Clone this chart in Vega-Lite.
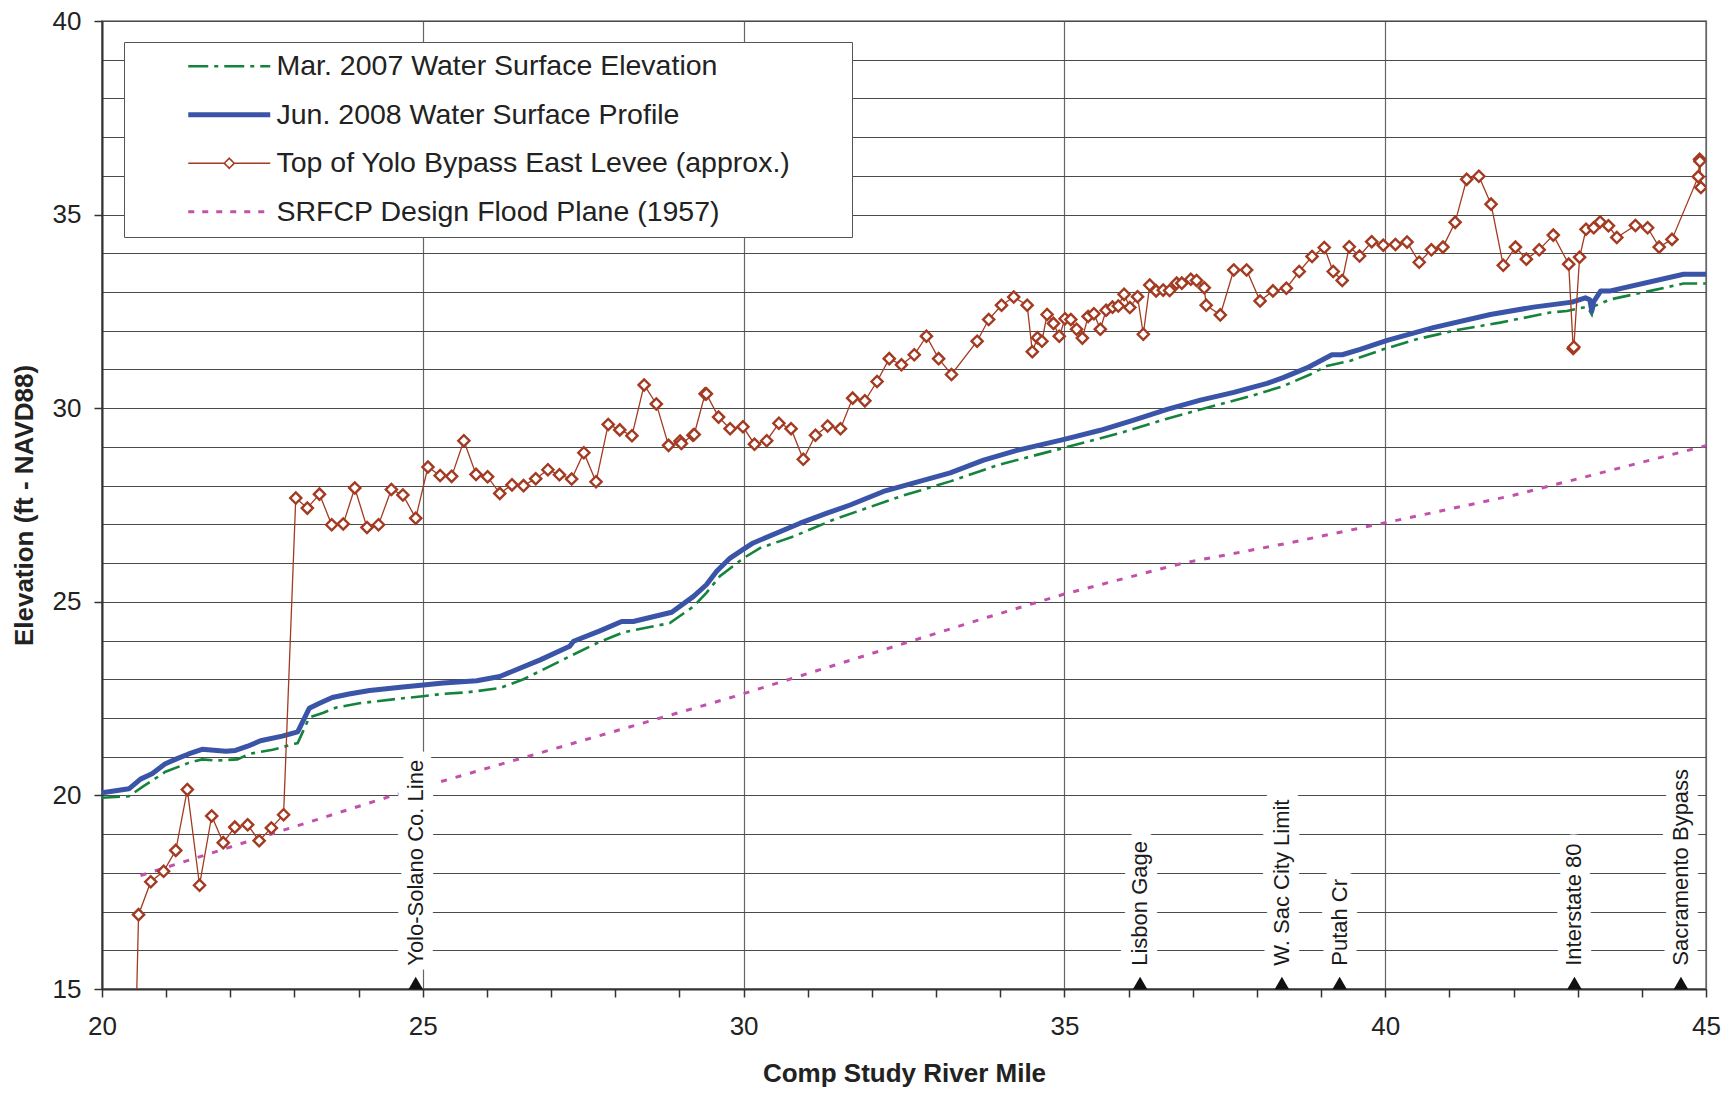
{
  "$schema": "https://vega.github.io/schema/vega-lite/v6.json",
  "width": 1604,
  "height": 968,
  "autosize": "none",
  "padding": {"left": 102, "top": 21, "right": 30, "bottom": 104},
  "background": "white",
  "config": {
    "font": "Liberation Sans",
    "view": {"stroke": "#999", "strokeWidth": 2},
    "axis": {
      "labelFont": "Liberation Sans", "titleFont": "Liberation Sans",
      "labelFontSize": 26, "titleFontSize": 26, "titleFontWeight": "bold",
      "labelColor": "#222", "titleColor": "#222",
      "domainColor": "#333", "domainWidth": 2,
      "tickColor": "#333", "tickWidth": 1.5, "tickSize": 8,
      "gridColor": "#4a4a4a", "gridWidth": 1.2,
      "labelFlush": false, "labelOverlap": false
    }
  },
  "datasets": {
    "profiles": [
      {"series": "Mar. 2007 Water Surface Elevation", "mile": 20.0, "elev": 19.94},
      {"series": "Mar. 2007 Water Surface Elevation", "mile": 20.42, "elev": 19.98},
      {"series": "Mar. 2007 Water Surface Elevation", "mile": 20.63, "elev": 20.22},
      {"series": "Mar. 2007 Water Surface Elevation", "mile": 20.78, "elev": 20.38},
      {"series": "Mar. 2007 Water Surface Elevation", "mile": 20.99, "elev": 20.61},
      {"series": "Mar. 2007 Water Surface Elevation", "mile": 21.35, "elev": 20.84},
      {"series": "Mar. 2007 Water Surface Elevation", "mile": 21.56, "elev": 20.93},
      {"series": "Mar. 2007 Water Surface Elevation", "mile": 21.77, "elev": 20.9},
      {"series": "Mar. 2007 Water Surface Elevation", "mile": 22.11, "elev": 20.93},
      {"series": "Mar. 2007 Water Surface Elevation", "mile": 22.29, "elev": 21.07},
      {"series": "Mar. 2007 Water Surface Elevation", "mile": 22.66, "elev": 21.18},
      {"series": "Mar. 2007 Water Surface Elevation", "mile": 23.05, "elev": 21.35},
      {"series": "Mar. 2007 Water Surface Elevation", "mile": 23.23, "elev": 22.01},
      {"series": "Mar. 2007 Water Surface Elevation", "mile": 23.44, "elev": 22.13},
      {"series": "Mar. 2007 Water Surface Elevation", "mile": 23.65, "elev": 22.27},
      {"series": "Mar. 2007 Water Surface Elevation", "mile": 24.01, "elev": 22.38},
      {"series": "Mar. 2007 Water Surface Elevation", "mile": 24.64, "elev": 22.5},
      {"series": "Mar. 2007 Water Surface Elevation", "mile": 25.0, "elev": 22.56},
      {"series": "Mar. 2007 Water Surface Elevation", "mile": 25.31, "elev": 22.62},
      {"series": "Mar. 2007 Water Surface Elevation", "mile": 25.68, "elev": 22.66},
      {"series": "Mar. 2007 Water Surface Elevation", "mile": 26.2, "elev": 22.77},
      {"series": "Mar. 2007 Water Surface Elevation", "mile": 26.57, "elev": 23.0},
      {"series": "Mar. 2007 Water Surface Elevation", "mile": 27.29, "elev": 23.59},
      {"series": "Mar. 2007 Water Surface Elevation", "mile": 27.71, "elev": 23.93},
      {"series": "Mar. 2007 Water Surface Elevation", "mile": 28.12, "elev": 24.21},
      {"series": "Mar. 2007 Water Surface Elevation", "mile": 28.85, "elev": 24.45},
      {"series": "Mar. 2007 Water Surface Elevation", "mile": 29.22, "elev": 24.88},
      {"series": "Mar. 2007 Water Surface Elevation", "mile": 29.42, "elev": 25.23},
      {"series": "Mar. 2007 Water Surface Elevation", "mile": 29.63, "elev": 25.66},
      {"series": "Mar. 2007 Water Surface Elevation", "mile": 30.0, "elev": 26.13},
      {"series": "Mar. 2007 Water Surface Elevation", "mile": 30.26, "elev": 26.39},
      {"series": "Mar. 2007 Water Surface Elevation", "mile": 30.78, "elev": 26.69},
      {"series": "Mar. 2007 Water Surface Elevation", "mile": 31.4, "elev": 27.12},
      {"series": "Mar. 2007 Water Surface Elevation", "mile": 31.92, "elev": 27.42},
      {"series": "Mar. 2007 Water Surface Elevation", "mile": 32.44, "elev": 27.72},
      {"series": "Mar. 2007 Water Surface Elevation", "mile": 33.22, "elev": 28.11},
      {"series": "Mar. 2007 Water Surface Elevation", "mile": 34.0, "elev": 28.55},
      {"series": "Mar. 2007 Water Surface Elevation", "mile": 34.98, "elev": 28.97},
      {"series": "Mar. 2007 Water Surface Elevation", "mile": 35.87, "elev": 29.36},
      {"series": "Mar. 2007 Water Surface Elevation", "mile": 36.6, "elev": 29.73},
      {"series": "Mar. 2007 Water Surface Elevation", "mile": 37.22, "elev": 30.01},
      {"series": "Mar. 2007 Water Surface Elevation", "mile": 37.9, "elev": 30.31},
      {"series": "Mar. 2007 Water Surface Elevation", "mile": 38.41, "elev": 30.57},
      {"series": "Mar. 2007 Water Surface Elevation", "mile": 38.83, "elev": 30.87},
      {"series": "Mar. 2007 Water Surface Elevation", "mile": 39.09, "elev": 31.09},
      {"series": "Mar. 2007 Water Surface Elevation", "mile": 39.45, "elev": 31.22},
      {"series": "Mar. 2007 Water Surface Elevation", "mile": 39.97, "elev": 31.52},
      {"series": "Mar. 2007 Water Surface Elevation", "mile": 40.49, "elev": 31.78},
      {"series": "Mar. 2007 Water Surface Elevation", "mile": 41.12, "elev": 32.02},
      {"series": "Mar. 2007 Water Surface Elevation", "mile": 41.79, "elev": 32.21},
      {"series": "Mar. 2007 Water Surface Elevation", "mile": 42.57, "elev": 32.47},
      {"series": "Mar. 2007 Water Surface Elevation", "mile": 42.83, "elev": 32.51},
      {"series": "Mar. 2007 Water Surface Elevation", "mile": 43.09, "elev": 32.6},
      {"series": "Mar. 2007 Water Surface Elevation", "mile": 43.16, "elev": 32.6},
      {"series": "Mar. 2007 Water Surface Elevation", "mile": 43.22, "elev": 32.42},
      {"series": "Mar. 2007 Water Surface Elevation", "mile": 43.25, "elev": 32.63},
      {"series": "Mar. 2007 Water Surface Elevation", "mile": 43.51, "elev": 32.81},
      {"series": "Mar. 2007 Water Surface Elevation", "mile": 44.13, "elev": 33.03},
      {"series": "Mar. 2007 Water Surface Elevation", "mile": 44.65, "elev": 33.22},
      {"series": "Mar. 2007 Water Surface Elevation", "mile": 45.0, "elev": 33.22},

      {"series": "Jun. 2008 Water Surface Profile", "mile": 20.0, "elev": 20.07},
      {"series": "Jun. 2008 Water Surface Profile", "mile": 20.42, "elev": 20.17},
      {"series": "Jun. 2008 Water Surface Profile", "mile": 20.6, "elev": 20.42},
      {"series": "Jun. 2008 Water Surface Profile", "mile": 20.78, "elev": 20.56},
      {"series": "Jun. 2008 Water Surface Profile", "mile": 20.98, "elev": 20.81},
      {"series": "Jun. 2008 Water Surface Profile", "mile": 21.17, "elev": 20.95},
      {"series": "Jun. 2008 Water Surface Profile", "mile": 21.35, "elev": 21.07},
      {"series": "Jun. 2008 Water Surface Profile", "mile": 21.56, "elev": 21.19},
      {"series": "Jun. 2008 Water Surface Profile", "mile": 21.93, "elev": 21.14},
      {"series": "Jun. 2008 Water Surface Profile", "mile": 22.08, "elev": 21.16},
      {"series": "Jun. 2008 Water Surface Profile", "mile": 22.27, "elev": 21.27},
      {"series": "Jun. 2008 Water Surface Profile", "mile": 22.47, "elev": 21.41},
      {"series": "Jun. 2008 Water Surface Profile", "mile": 22.81, "elev": 21.53},
      {"series": "Jun. 2008 Water Surface Profile", "mile": 23.05, "elev": 21.64},
      {"series": "Jun. 2008 Water Surface Profile", "mile": 23.23, "elev": 22.25},
      {"series": "Jun. 2008 Water Surface Profile", "mile": 23.39, "elev": 22.38},
      {"series": "Jun. 2008 Water Surface Profile", "mile": 23.59, "elev": 22.53},
      {"series": "Jun. 2008 Water Surface Profile", "mile": 23.85, "elev": 22.62},
      {"series": "Jun. 2008 Water Surface Profile", "mile": 24.17, "elev": 22.71},
      {"series": "Jun. 2008 Water Surface Profile", "mile": 24.69, "elev": 22.8},
      {"series": "Jun. 2008 Water Surface Profile", "mile": 25.01, "elev": 22.85},
      {"series": "Jun. 2008 Water Surface Profile", "mile": 25.32, "elev": 22.9},
      {"series": "Jun. 2008 Water Surface Profile", "mile": 25.84, "elev": 22.96},
      {"series": "Jun. 2008 Water Surface Profile", "mile": 26.2, "elev": 23.07},
      {"series": "Jun. 2008 Water Surface Profile", "mile": 26.83, "elev": 23.5},
      {"series": "Jun. 2008 Water Surface Profile", "mile": 27.29, "elev": 23.85},
      {"series": "Jun. 2008 Water Surface Profile", "mile": 27.35, "elev": 23.98},
      {"series": "Jun. 2008 Water Surface Profile", "mile": 27.76, "elev": 24.25},
      {"series": "Jun. 2008 Water Surface Profile", "mile": 28.1, "elev": 24.49},
      {"series": "Jun. 2008 Water Surface Profile", "mile": 28.28, "elev": 24.49},
      {"series": "Jun. 2008 Water Surface Profile", "mile": 28.88, "elev": 24.73},
      {"series": "Jun. 2008 Water Surface Profile", "mile": 29.22, "elev": 25.14},
      {"series": "Jun. 2008 Water Surface Profile", "mile": 29.42, "elev": 25.44},
      {"series": "Jun. 2008 Water Surface Profile", "mile": 29.58, "elev": 25.79},
      {"series": "Jun. 2008 Water Surface Profile", "mile": 29.79, "elev": 26.13},
      {"series": "Jun. 2008 Water Surface Profile", "mile": 30.0, "elev": 26.36},
      {"series": "Jun. 2008 Water Surface Profile", "mile": 30.15, "elev": 26.52},
      {"series": "Jun. 2008 Water Surface Profile", "mile": 30.88, "elev": 27.03},
      {"series": "Jun. 2008 Water Surface Profile", "mile": 31.3, "elev": 27.29},
      {"series": "Jun. 2008 Water Surface Profile", "mile": 31.66, "elev": 27.5},
      {"series": "Jun. 2008 Water Surface Profile", "mile": 32.18, "elev": 27.85},
      {"series": "Jun. 2008 Water Surface Profile", "mile": 32.7, "elev": 28.09},
      {"series": "Jun. 2008 Water Surface Profile", "mile": 33.22, "elev": 28.33},
      {"series": "Jun. 2008 Water Surface Profile", "mile": 33.74, "elev": 28.66},
      {"series": "Jun. 2008 Water Surface Profile", "mile": 34.26, "elev": 28.91},
      {"series": "Jun. 2008 Water Surface Profile", "mile": 34.98, "elev": 29.19},
      {"series": "Jun. 2008 Water Surface Profile", "mile": 35.56, "elev": 29.43},
      {"series": "Jun. 2008 Water Surface Profile", "mile": 36.08, "elev": 29.69},
      {"series": "Jun. 2008 Water Surface Profile", "mile": 36.6, "elev": 29.97},
      {"series": "Jun. 2008 Water Surface Profile", "mile": 37.12, "elev": 30.21},
      {"series": "Jun. 2008 Water Surface Profile", "mile": 37.64, "elev": 30.41},
      {"series": "Jun. 2008 Water Surface Profile", "mile": 38.16, "elev": 30.64},
      {"series": "Jun. 2008 Water Surface Profile", "mile": 38.41, "elev": 30.79},
      {"series": "Jun. 2008 Water Surface Profile", "mile": 38.78, "elev": 31.04},
      {"series": "Jun. 2008 Water Surface Profile", "mile": 39.17, "elev": 31.38},
      {"series": "Jun. 2008 Water Surface Profile", "mile": 39.33, "elev": 31.38},
      {"series": "Jun. 2008 Water Surface Profile", "mile": 39.61, "elev": 31.52},
      {"series": "Jun. 2008 Water Surface Profile", "mile": 40.03, "elev": 31.75},
      {"series": "Jun. 2008 Water Surface Profile", "mile": 40.75, "elev": 32.08},
      {"series": "Jun. 2008 Water Surface Profile", "mile": 41.64, "elev": 32.42},
      {"series": "Jun. 2008 Water Surface Profile", "mile": 42.31, "elev": 32.61},
      {"series": "Jun. 2008 Water Surface Profile", "mile": 42.91, "elev": 32.74},
      {"series": "Jun. 2008 Water Surface Profile", "mile": 43.12, "elev": 32.85},
      {"series": "Jun. 2008 Water Surface Profile", "mile": 43.19, "elev": 32.8},
      {"series": "Jun. 2008 Water Surface Profile", "mile": 43.22, "elev": 32.51},
      {"series": "Jun. 2008 Water Surface Profile", "mile": 43.25, "elev": 32.75},
      {"series": "Jun. 2008 Water Surface Profile", "mile": 43.36, "elev": 33.03},
      {"series": "Jun. 2008 Water Surface Profile", "mile": 43.51, "elev": 33.03},
      {"series": "Jun. 2008 Water Surface Profile", "mile": 44.65, "elev": 33.46},
      {"series": "Jun. 2008 Water Surface Profile", "mile": 45.0, "elev": 33.46},

      {"series": "Top of Yolo Bypass East Levee (approx.)", "mile": 20.5, "elev": 12.0},
      {"series": "Top of Yolo Bypass East Levee (approx.)", "mile": 20.57, "elev": 16.92},
      {"series": "Top of Yolo Bypass East Levee (approx.)", "mile": 20.76, "elev": 17.77},
      {"series": "Top of Yolo Bypass East Levee (approx.)", "mile": 20.96, "elev": 18.04},
      {"series": "Top of Yolo Bypass East Levee (approx.)", "mile": 21.15, "elev": 18.58},
      {"series": "Top of Yolo Bypass East Levee (approx.)", "mile": 21.33, "elev": 20.15},
      {"series": "Top of Yolo Bypass East Levee (approx.)", "mile": 21.52, "elev": 17.68},
      {"series": "Top of Yolo Bypass East Levee (approx.)", "mile": 21.71, "elev": 19.47},
      {"series": "Top of Yolo Bypass East Levee (approx.)", "mile": 21.89, "elev": 18.78},
      {"series": "Top of Yolo Bypass East Levee (approx.)", "mile": 22.07, "elev": 19.18},
      {"series": "Top of Yolo Bypass East Levee (approx.)", "mile": 22.27, "elev": 19.24},
      {"series": "Top of Yolo Bypass East Levee (approx.)", "mile": 22.45, "elev": 18.83},
      {"series": "Top of Yolo Bypass East Levee (approx.)", "mile": 22.64, "elev": 19.16},
      {"series": "Top of Yolo Bypass East Levee (approx.)", "mile": 22.83, "elev": 19.5},
      {"series": "Top of Yolo Bypass East Levee (approx.)", "mile": 23.02, "elev": 27.68},
      {"series": "Top of Yolo Bypass East Levee (approx.)", "mile": 23.2, "elev": 27.42},
      {"series": "Top of Yolo Bypass East Levee (approx.)", "mile": 23.39, "elev": 27.78},
      {"series": "Top of Yolo Bypass East Levee (approx.)", "mile": 23.58, "elev": 26.99},
      {"series": "Top of Yolo Bypass East Levee (approx.)", "mile": 23.76, "elev": 27.01},
      {"series": "Top of Yolo Bypass East Levee (approx.)", "mile": 23.94, "elev": 27.94},
      {"series": "Top of Yolo Bypass East Levee (approx.)", "mile": 24.13, "elev": 26.92},
      {"series": "Top of Yolo Bypass East Levee (approx.)", "mile": 24.31, "elev": 26.99},
      {"series": "Top of Yolo Bypass East Levee (approx.)", "mile": 24.51, "elev": 27.9},
      {"series": "Top of Yolo Bypass East Levee (approx.)", "mile": 24.69, "elev": 27.76},
      {"series": "Top of Yolo Bypass East Levee (approx.)", "mile": 24.89, "elev": 27.16},
      {"series": "Top of Yolo Bypass East Levee (approx.)", "mile": 25.08, "elev": 28.48},
      {"series": "Top of Yolo Bypass East Levee (approx.)", "mile": 25.27, "elev": 28.26},
      {"series": "Top of Yolo Bypass East Levee (approx.)", "mile": 25.45, "elev": 28.24},
      {"series": "Top of Yolo Bypass East Levee (approx.)", "mile": 25.64, "elev": 29.16},
      {"series": "Top of Yolo Bypass East Levee (approx.)", "mile": 25.83, "elev": 28.29},
      {"series": "Top of Yolo Bypass East Levee (approx.)", "mile": 26.01, "elev": 28.23},
      {"series": "Top of Yolo Bypass East Levee (approx.)", "mile": 26.2, "elev": 27.8},
      {"series": "Top of Yolo Bypass East Levee (approx.)", "mile": 26.39, "elev": 28.02},
      {"series": "Top of Yolo Bypass East Levee (approx.)", "mile": 26.57, "elev": 28.0},
      {"series": "Top of Yolo Bypass East Levee (approx.)", "mile": 26.76, "elev": 28.18},
      {"series": "Top of Yolo Bypass East Levee (approx.)", "mile": 26.95, "elev": 28.41},
      {"series": "Top of Yolo Bypass East Levee (approx.)", "mile": 27.13, "elev": 28.28},
      {"series": "Top of Yolo Bypass East Levee (approx.)", "mile": 27.32, "elev": 28.17},
      {"series": "Top of Yolo Bypass East Levee (approx.)", "mile": 27.51, "elev": 28.85},
      {"series": "Top of Yolo Bypass East Levee (approx.)", "mile": 27.7, "elev": 28.1},
      {"series": "Top of Yolo Bypass East Levee (approx.)", "mile": 27.89, "elev": 29.58},
      {"series": "Top of Yolo Bypass East Levee (approx.)", "mile": 28.07, "elev": 29.44},
      {"series": "Top of Yolo Bypass East Levee (approx.)", "mile": 28.26, "elev": 29.29},
      {"series": "Top of Yolo Bypass East Levee (approx.)", "mile": 28.45, "elev": 30.6},
      {"series": "Top of Yolo Bypass East Levee (approx.)", "mile": 28.64, "elev": 30.11},
      {"series": "Top of Yolo Bypass East Levee (approx.)", "mile": 28.83, "elev": 29.04},
      {"series": "Top of Yolo Bypass East Levee (approx.)", "mile": 29.01, "elev": 29.15},
      {"series": "Top of Yolo Bypass East Levee (approx.)", "mile": 29.03, "elev": 29.09},
      {"series": "Top of Yolo Bypass East Levee (approx.)", "mile": 29.21, "elev": 29.3},
      {"series": "Top of Yolo Bypass East Levee (approx.)", "mile": 29.23, "elev": 29.32},
      {"series": "Top of Yolo Bypass East Levee (approx.)", "mile": 29.4, "elev": 30.37},
      {"series": "Top of Yolo Bypass East Levee (approx.)", "mile": 29.42, "elev": 30.37},
      {"series": "Top of Yolo Bypass East Levee (approx.)", "mile": 29.61, "elev": 29.77},
      {"series": "Top of Yolo Bypass East Levee (approx.)", "mile": 29.79, "elev": 29.47},
      {"series": "Top of Yolo Bypass East Levee (approx.)", "mile": 29.99, "elev": 29.52},
      {"series": "Top of Yolo Bypass East Levee (approx.)", "mile": 30.17, "elev": 29.07},
      {"series": "Top of Yolo Bypass East Levee (approx.)", "mile": 30.36, "elev": 29.16},
      {"series": "Top of Yolo Bypass East Levee (approx.)", "mile": 30.55, "elev": 29.61},
      {"series": "Top of Yolo Bypass East Levee (approx.)", "mile": 30.74, "elev": 29.47},
      {"series": "Top of Yolo Bypass East Levee (approx.)", "mile": 30.93, "elev": 28.68},
      {"series": "Top of Yolo Bypass East Levee (approx.)", "mile": 31.12, "elev": 29.3},
      {"series": "Top of Yolo Bypass East Levee (approx.)", "mile": 31.31, "elev": 29.54},
      {"series": "Top of Yolo Bypass East Levee (approx.)", "mile": 31.51, "elev": 29.47},
      {"series": "Top of Yolo Bypass East Levee (approx.)", "mile": 31.7, "elev": 30.26},
      {"series": "Top of Yolo Bypass East Levee (approx.)", "mile": 31.89, "elev": 30.19},
      {"series": "Top of Yolo Bypass East Levee (approx.)", "mile": 32.08, "elev": 30.69},
      {"series": "Top of Yolo Bypass East Levee (approx.)", "mile": 32.27, "elev": 31.28},
      {"series": "Top of Yolo Bypass East Levee (approx.)", "mile": 32.46, "elev": 31.12},
      {"series": "Top of Yolo Bypass East Levee (approx.)", "mile": 32.66, "elev": 31.38},
      {"series": "Top of Yolo Bypass East Levee (approx.)", "mile": 32.85, "elev": 31.86},
      {"series": "Top of Yolo Bypass East Levee (approx.)", "mile": 33.04, "elev": 31.28},
      {"series": "Top of Yolo Bypass East Levee (approx.)", "mile": 33.24, "elev": 30.87},
      {"series": "Top of Yolo Bypass East Levee (approx.)", "mile": 33.64, "elev": 31.73},
      {"series": "Top of Yolo Bypass East Levee (approx.)", "mile": 33.82, "elev": 32.29},
      {"series": "Top of Yolo Bypass East Levee (approx.)", "mile": 34.02, "elev": 32.66},
      {"series": "Top of Yolo Bypass East Levee (approx.)", "mile": 34.21, "elev": 32.87},
      {"series": "Top of Yolo Bypass East Levee (approx.)", "mile": 34.42, "elev": 32.66},
      {"series": "Top of Yolo Bypass East Levee (approx.)", "mile": 34.5, "elev": 31.46},
      {"series": "Top of Yolo Bypass East Levee (approx.)", "mile": 34.58, "elev": 31.82},
      {"series": "Top of Yolo Bypass East Levee (approx.)", "mile": 34.65, "elev": 31.73},
      {"series": "Top of Yolo Bypass East Levee (approx.)", "mile": 34.73, "elev": 32.42},
      {"series": "Top of Yolo Bypass East Levee (approx.)", "mile": 34.83, "elev": 32.19},
      {"series": "Top of Yolo Bypass East Levee (approx.)", "mile": 34.92, "elev": 31.86},
      {"series": "Top of Yolo Bypass East Levee (approx.)", "mile": 35.01, "elev": 32.31},
      {"series": "Top of Yolo Bypass East Levee (approx.)", "mile": 35.1, "elev": 32.29},
      {"series": "Top of Yolo Bypass East Levee (approx.)", "mile": 35.19, "elev": 32.04},
      {"series": "Top of Yolo Bypass East Levee (approx.)", "mile": 35.28, "elev": 31.81},
      {"series": "Top of Yolo Bypass East Levee (approx.)", "mile": 35.37, "elev": 32.37},
      {"series": "Top of Yolo Bypass East Levee (approx.)", "mile": 35.46, "elev": 32.44},
      {"series": "Top of Yolo Bypass East Levee (approx.)", "mile": 35.56, "elev": 32.04},
      {"series": "Top of Yolo Bypass East Levee (approx.)", "mile": 35.65, "elev": 32.53},
      {"series": "Top of Yolo Bypass East Levee (approx.)", "mile": 35.75, "elev": 32.61},
      {"series": "Top of Yolo Bypass East Levee (approx.)", "mile": 35.84, "elev": 32.64},
      {"series": "Top of Yolo Bypass East Levee (approx.)", "mile": 35.93, "elev": 32.94},
      {"series": "Top of Yolo Bypass East Levee (approx.)", "mile": 36.02, "elev": 32.6},
      {"series": "Top of Yolo Bypass East Levee (approx.)", "mile": 36.14, "elev": 32.88},
      {"series": "Top of Yolo Bypass East Levee (approx.)", "mile": 36.23, "elev": 31.91},
      {"series": "Top of Yolo Bypass East Levee (approx.)", "mile": 36.33, "elev": 33.18},
      {"series": "Top of Yolo Bypass East Levee (approx.)", "mile": 36.43, "elev": 33.03},
      {"series": "Top of Yolo Bypass East Levee (approx.)", "mile": 36.54, "elev": 33.05},
      {"series": "Top of Yolo Bypass East Levee (approx.)", "mile": 36.64, "elev": 33.04},
      {"series": "Top of Yolo Bypass East Levee (approx.)", "mile": 36.75, "elev": 33.23},
      {"series": "Top of Yolo Bypass East Levee (approx.)", "mile": 36.83, "elev": 33.23},
      {"series": "Top of Yolo Bypass East Levee (approx.)", "mile": 36.97, "elev": 33.33},
      {"series": "Top of Yolo Bypass East Levee (approx.)", "mile": 37.06, "elev": 33.3},
      {"series": "Top of Yolo Bypass East Levee (approx.)", "mile": 37.18, "elev": 33.11},
      {"series": "Top of Yolo Bypass East Levee (approx.)", "mile": 37.21, "elev": 32.66},
      {"series": "Top of Yolo Bypass East Levee (approx.)", "mile": 37.43, "elev": 32.41},
      {"series": "Top of Yolo Bypass East Levee (approx.)", "mile": 37.64, "elev": 33.57},
      {"series": "Top of Yolo Bypass East Levee (approx.)", "mile": 37.84, "elev": 33.57},
      {"series": "Top of Yolo Bypass East Levee (approx.)", "mile": 38.05, "elev": 32.77},
      {"series": "Top of Yolo Bypass East Levee (approx.)", "mile": 38.25, "elev": 33.03},
      {"series": "Top of Yolo Bypass East Levee (approx.)", "mile": 38.46, "elev": 33.1},
      {"series": "Top of Yolo Bypass East Levee (approx.)", "mile": 38.66, "elev": 33.53},
      {"series": "Top of Yolo Bypass East Levee (approx.)", "mile": 38.86, "elev": 33.92},
      {"series": "Top of Yolo Bypass East Levee (approx.)", "mile": 39.05, "elev": 34.15},
      {"series": "Top of Yolo Bypass East Levee (approx.)", "mile": 39.19, "elev": 33.53},
      {"series": "Top of Yolo Bypass East Levee (approx.)", "mile": 39.33, "elev": 33.3},
      {"series": "Top of Yolo Bypass East Levee (approx.)", "mile": 39.44, "elev": 34.17},
      {"series": "Top of Yolo Bypass East Levee (approx.)", "mile": 39.6, "elev": 33.93},
      {"series": "Top of Yolo Bypass East Levee (approx.)", "mile": 39.79, "elev": 34.3},
      {"series": "Top of Yolo Bypass East Levee (approx.)", "mile": 39.97, "elev": 34.21},
      {"series": "Top of Yolo Bypass East Levee (approx.)", "mile": 40.16, "elev": 34.23},
      {"series": "Top of Yolo Bypass East Levee (approx.)", "mile": 40.34, "elev": 34.29},
      {"series": "Top of Yolo Bypass East Levee (approx.)", "mile": 40.53, "elev": 33.77},
      {"series": "Top of Yolo Bypass East Levee (approx.)", "mile": 40.72, "elev": 34.09},
      {"series": "Top of Yolo Bypass East Levee (approx.)", "mile": 40.9, "elev": 34.16},
      {"series": "Top of Yolo Bypass East Levee (approx.)", "mile": 41.09, "elev": 34.8},
      {"series": "Top of Yolo Bypass East Levee (approx.)", "mile": 41.27, "elev": 35.91},
      {"series": "Top of Yolo Bypass East Levee (approx.)", "mile": 41.46, "elev": 35.99},
      {"series": "Top of Yolo Bypass East Levee (approx.)", "mile": 41.65, "elev": 35.27},
      {"series": "Top of Yolo Bypass East Levee (approx.)", "mile": 41.84, "elev": 33.69},
      {"series": "Top of Yolo Bypass East Levee (approx.)", "mile": 42.03, "elev": 34.16},
      {"series": "Top of Yolo Bypass East Levee (approx.)", "mile": 42.2, "elev": 33.85},
      {"series": "Top of Yolo Bypass East Levee (approx.)", "mile": 42.4, "elev": 34.09},
      {"series": "Top of Yolo Bypass East Levee (approx.)", "mile": 42.62, "elev": 34.47},
      {"series": "Top of Yolo Bypass East Levee (approx.)", "mile": 42.86, "elev": 33.72},
      {"series": "Top of Yolo Bypass East Levee (approx.)", "mile": 42.93, "elev": 31.54},
      {"series": "Top of Yolo Bypass East Levee (approx.)", "mile": 42.94, "elev": 31.58},
      {"series": "Top of Yolo Bypass East Levee (approx.)", "mile": 43.03, "elev": 33.9},
      {"series": "Top of Yolo Bypass East Levee (approx.)", "mile": 43.13, "elev": 34.62},
      {"series": "Top of Yolo Bypass East Levee (approx.)", "mile": 43.25, "elev": 34.66},
      {"series": "Top of Yolo Bypass East Levee (approx.)", "mile": 43.35, "elev": 34.81},
      {"series": "Top of Yolo Bypass East Levee (approx.)", "mile": 43.48, "elev": 34.71},
      {"series": "Top of Yolo Bypass East Levee (approx.)", "mile": 43.61, "elev": 34.41},
      {"series": "Top of Yolo Bypass East Levee (approx.)", "mile": 43.9, "elev": 34.72},
      {"series": "Top of Yolo Bypass East Levee (approx.)", "mile": 44.09, "elev": 34.66},
      {"series": "Top of Yolo Bypass East Levee (approx.)", "mile": 44.27, "elev": 34.16},
      {"series": "Top of Yolo Bypass East Levee (approx.)", "mile": 44.47, "elev": 34.36},
      {"series": "Top of Yolo Bypass East Levee (approx.)", "mile": 44.88, "elev": 35.98},
      {"series": "Top of Yolo Bypass East Levee (approx.)", "mile": 44.9, "elev": 36.43},
      {"series": "Top of Yolo Bypass East Levee (approx.)", "mile": 44.905, "elev": 36.38},
      {"series": "Top of Yolo Bypass East Levee (approx.)", "mile": 44.92, "elev": 35.7},

      {"series": "SRFCP Design Flood Plane (1957)", "mile": 20.6, "elev": 17.93},
      {"series": "SRFCP Design Flood Plane (1957)", "mile": 24.5, "elev": 19.98},
      {"series": "SRFCP Design Flood Plane (1957)", "mile": 29.85, "elev": 22.55},
      {"series": "SRFCP Design Flood Plane (1957)", "mile": 33.8, "elev": 24.6},
      {"series": "SRFCP Design Flood Plane (1957)", "mile": 35.0, "elev": 25.2},
      {"series": "SRFCP Design Flood Plane (1957)", "mile": 36.85, "elev": 26.0},
      {"series": "SRFCP Design Flood Plane (1957)", "mile": 38.5, "elev": 26.52},
      {"series": "SRFCP Design Flood Plane (1957)", "mile": 40.0, "elev": 27.04},
      {"series": "SRFCP Design Flood Plane (1957)", "mile": 42.0, "elev": 27.75},
      {"series": "SRFCP Design Flood Plane (1957)", "mile": 45.0, "elev": 29.03}
    ],
    "landmarks": [
      {"name": "Yolo-Solano Co. Line", "mile": 24.89},
      {"name": "Lisbon Gage", "mile": 36.18},
      {"name": "W. Sac City Limit", "mile": 38.39},
      {"name": "Putah Cr", "mile": 39.29},
      {"name": "Interstate 80", "mile": 42.95},
      {"name": "Sacramento Bypass", "mile": 44.61}
    ]
  },
  "layer": [
    {
      "data": {"name": "profiles"},
      "encoding": {
        "x": {
          "field": "mile", "type": "quantitative",
          "scale": {"domain": [20, 45], "nice": false, "zero": false},
          "axis": {
            "title": "Comp Study River Mile", "format": "d",
            "values": [20,21,22,23,24,25,26,27,28,29,30,31,32,33,34,35,36,37,38,39,40,41,42,43,44,45],
            "labelExpr": "datum.value % 5 === 0 ? datum.label : ''",
            "gridOpacity": {"condition": {"test": "datum.value % 5 === 0", "value": 1}, "value": 0},
            "gridColor": "#666", "labelPadding": 16, "titlePadding": 21
          }
        },
        "y": {
          "field": "elev", "type": "quantitative",
          "scale": {"domain": [15, 40], "nice": false, "zero": false},
          "axis": {
            "title": "Elevation (ft - NAVD88)", "format": "d",
            "values": [15,16,17,18,19,20,21,22,23,24,25,26,27,28,29,30,31,32,33,34,35,36,37,38,39,40],
            "labelExpr": "datum.value % 5 === 0 ? datum.label : ''",
            "tickOpacity": {"condition": {"test": "datum.value % 5 === 0", "value": 1}, "value": 0},
            "labelPadding": 13, "titlePadding": 15
          }
        },
        "color": {
          "field": "series", "type": "nominal",
          "scale": {
            "domain": ["Mar. 2007 Water Surface Elevation", "Jun. 2008 Water Surface Profile", "Top of Yolo Bypass East Levee (approx.)", "SRFCP Design Flood Plane (1957)"],
            "range": ["#14843d", "#3a55a7", "#a33a22", "#c052ac"]
          },
          "legend": {
            "orient": "none", "legendX": 22, "legendY": 21,
            "title": null,
            "padding": 10,
            "strokeColor": "#555", "fillColor": "white",
            "labelFont": "Liberation Sans", "labelFontSize": 28.5, "labelColor": "#222",
            "symbolType": "stroke", "symbolSize": 100, "symbolStrokeWidth": 2.5,
            "rowPadding": 19.5,
            "symbolOffset": 81,
            "labelOffset": 33,
            "labelLimit": 800,
            "encode": {
              "symbols": {
                "update": {
                  "shape": {"signal": "datum.value === 'Top of Yolo Bypass East Levee (approx.)' ? 'M-8.2,0H-1M1,0H8.2M0,-1L1,0L0,1L-1,0ZM120.5,0' : 'M-8.2,0H8.2M120.5,0'"},
                  "strokeDash": {"signal": "datum.value === 'Mar. 2007 Water Surface Elevation' ? [20,6,4,6] : datum.value === 'SRFCP Design Flood Plane (1957)' ? [6,8] : [1,0]"},
                  "strokeWidth": {"signal": "datum.value === 'Jun. 2008 Water Surface Profile' ? 5 : datum.value === 'Top of Yolo Bypass East Levee (approx.)' ? 1.6 : datum.value === 'SRFCP Design Flood Plane (1957)' ? 3 : 2.6"},
                  "fill": {"value": "white"}
                }
              }
            }
          }
        }
      },
      "layer": [
        {
          "transform": [{"filter": "datum.series === 'SRFCP Design Flood Plane (1957)'"}],
          "mark": {"type": "line", "strokeDash": [6, 9], "strokeWidth": 3, "clip": true}
        },
        {
          "transform": [{"filter": "datum.series === 'Mar. 2007 Water Surface Elevation'"}],
          "mark": {"type": "line", "strokeDash": [18, 6, 4, 6], "strokeWidth": 2.6, "clip": true}
        },
        {
          "transform": [{"filter": "datum.series === 'Jun. 2008 Water Surface Profile'"}],
          "mark": {"type": "line", "strokeWidth": 5, "strokeCap": "round", "strokeJoin": "round", "clip": true}
        },
        {
          "transform": [{"filter": "datum.series === 'Top of Yolo Bypass East Levee (approx.)'"}],
          "mark": {"type": "line", "strokeWidth": 1.3, "clip": true}
        }
      ]
    },
    {
      "data": {"name": "profiles"},
      "transform": [{"filter": "datum.series === 'Top of Yolo Bypass East Levee (approx.)'"}],
      "mark": {"type": "point", "shape": "diamond", "filled": true, "size": 125, "strokeWidth": 2.4, "opacity": 1, "clip": true},
      "encoding": {
        "x": {
          "field": "mile", "type": "quantitative",
          "axis": {
            "title": "Comp Study River Mile", "format": "d",
            "values": [20,21,22,23,24,25,26,27,28,29,30,31,32,33,34,35,36,37,38,39,40,41,42,43,44,45],
            "labelExpr": "datum.value % 5 === 0 ? datum.label : ''",
            "gridOpacity": {"condition": {"test": "datum.value % 5 === 0", "value": 1}, "value": 0},
            "gridColor": "#666", "labelPadding": 16, "titlePadding": 21
          }
        },
        "y": {
          "field": "elev", "type": "quantitative",
          "axis": {
            "title": "Elevation (ft - NAVD88)", "format": "d",
            "values": [15,16,17,18,19,20,21,22,23,24,25,26,27,28,29,30,31,32,33,34,35,36,37,38,39,40],
            "labelExpr": "datum.value % 5 === 0 ? datum.label : ''",
            "tickOpacity": {"condition": {"test": "datum.value % 5 === 0", "value": 1}, "value": 0},
            "labelPadding": 13, "titlePadding": 15
          }
        },
        "fill": {"value": "white"},
        "stroke": {"value": "#a33a22"}
      }
    },
    {
      "data": {"name": "landmarks"},
      "encoding": {
        "x": {
          "field": "mile", "type": "quantitative",
          "axis": {
            "title": "Comp Study River Mile", "format": "d",
            "values": [20,21,22,23,24,25,26,27,28,29,30,31,32,33,34,35,36,37,38,39,40,41,42,43,44,45],
            "labelExpr": "datum.value % 5 === 0 ? datum.label : ''",
            "gridOpacity": {"condition": {"test": "datum.value % 5 === 0", "value": 1}, "value": 0},
            "gridColor": "#666", "labelPadding": 16, "titlePadding": 21
          }
        }
      },
      "layer": [
        {
          "mark": {"type": "text", "angle": 270, "align": "left", "baseline": "middle", "font": "Liberation Sans", "fontSize": 22, "fill": "white", "stroke": "white", "strokeWidth": 20, "strokeJoin": "round"},
          "encoding": {
            "y": {
              "datum": 15.6, "type": "quantitative",
              "axis": {
                "title": "Elevation (ft - NAVD88)", "format": "d",
                "values": [15,16,17,18,19,20,21,22,23,24,25,26,27,28,29,30,31,32,33,34,35,36,37,38,39,40],
                "labelExpr": "datum.value % 5 === 0 ? datum.label : ''",
                "tickOpacity": {"condition": {"test": "datum.value % 5 === 0", "value": 1}, "value": 0},
                "labelPadding": 13, "titlePadding": 15
              }
            },
            "text": {"field": "name", "type": "nominal"}
          }
        },
        {
          "mark": {"type": "text", "angle": 270, "align": "left", "baseline": "middle", "font": "Liberation Sans", "fontSize": 22, "fill": "#1a1a1a"},
          "encoding": {
            "y": {
              "datum": 15.6, "type": "quantitative",
              "axis": {
                "title": "Elevation (ft - NAVD88)", "format": "d",
                "values": [15,16,17,18,19,20,21,22,23,24,25,26,27,28,29,30,31,32,33,34,35,36,37,38,39,40],
                "labelExpr": "datum.value % 5 === 0 ? datum.label : ''",
                "tickOpacity": {"condition": {"test": "datum.value % 5 === 0", "value": 1}, "value": 0},
                "labelPadding": 13, "titlePadding": 15
              }
            },
            "text": {"field": "name", "type": "nominal"}
          }
        },
        {
          "mark": {"type": "point", "shape": "triangle-up", "filled": true, "size": 210, "color": "#111", "opacity": 1, "yOffset": -6},
          "encoding": {
            "y": {
              "datum": 15, "type": "quantitative",
              "axis": {
                "title": "Elevation (ft - NAVD88)", "format": "d",
                "values": [15,16,17,18,19,20,21,22,23,24,25,26,27,28,29,30,31,32,33,34,35,36,37,38,39,40],
                "labelExpr": "datum.value % 5 === 0 ? datum.label : ''",
                "tickOpacity": {"condition": {"test": "datum.value % 5 === 0", "value": 1}, "value": 0},
                "labelPadding": 13, "titlePadding": 15
              }
            }
          }
        }
      ]
    }
  ]
}
